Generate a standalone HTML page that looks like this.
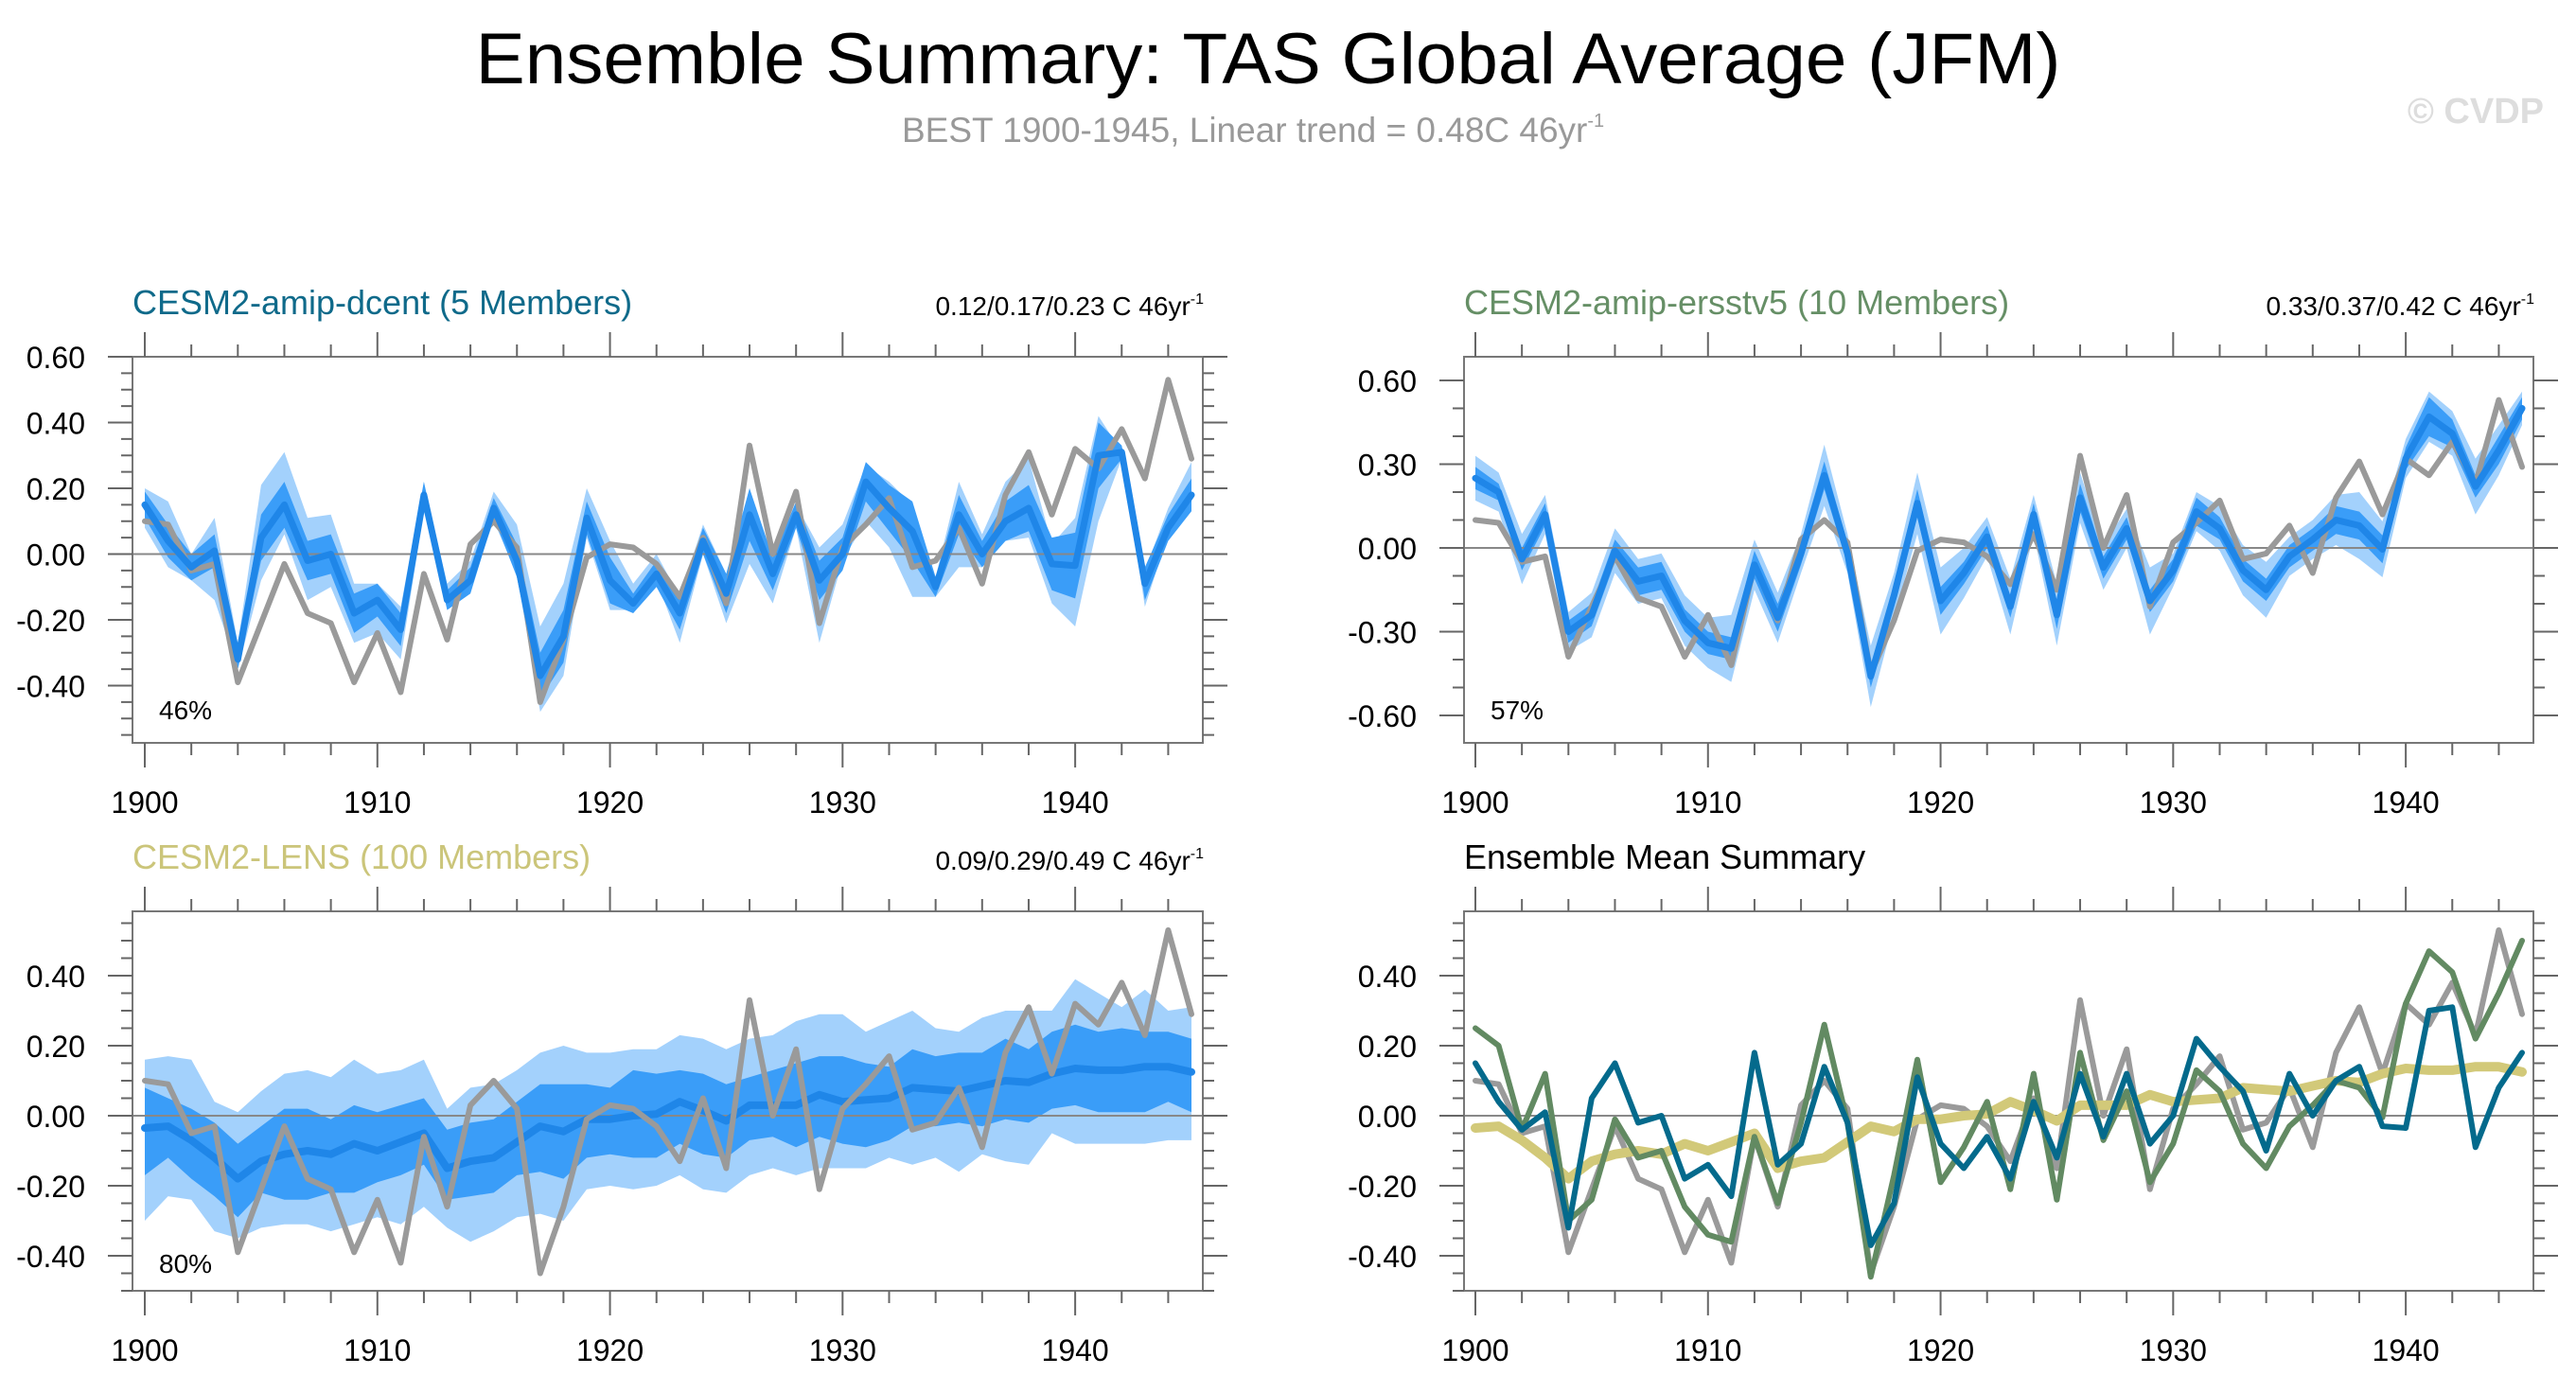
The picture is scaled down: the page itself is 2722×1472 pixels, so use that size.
<!DOCTYPE html>
<html><head><meta charset="utf-8"><style>
html,body{margin:0;padding:0;background:#fff}
svg{display:block;font-family:"Liberation Sans",Arial,sans-serif}
</style></head><body>
<svg id="chart" width="2722" height="1472" viewBox="0 0 2722 1472" xmlns="http://www.w3.org/2000/svg">
<text x="1340" y="88" font-size="76" text-anchor="middle" textLength="1675" lengthAdjust="spacingAndGlyphs" fill="#000">Ensemble Summary: TAS Global Average (JFM)</text>
<text x="953" y="150" font-size="37" fill="#999">BEST 1900-1945, Linear trend = 0.48C 46yr<tspan font-size="20" dy="-16">-1</tspan></text>
<text x="2688" y="130" font-size="38" font-weight="bold" text-anchor="end" fill="#ddd">© CVDP</text>
</svg>
<script>
const years = [];
for (let y = 1900; y <= 1945; y++) years.push(y);
const obs = [0.10,0.09,-0.05,-0.03,-0.39,-0.21,-0.03,-0.18,-0.21,-0.39,-0.24,-0.42,-0.06,-0.26,0.03,0.10,0.02,-0.45,-0.26,-0.01,0.03,0.02,-0.03,-0.13,0.05,-0.15,0.33,0.0,0.19,-0.21,0.02,0.09,0.17,-0.04,-0.02,0.08,-0.09,0.18,0.31,0.12,0.32,0.26,0.38,0.23,0.53,0.29];
const dcentMean = [0.15,0.04,-0.04,0.01,-0.32,0.05,0.15,-0.02,0.0,-0.18,-0.14,-0.23,0.18,-0.14,-0.08,0.14,-0.02,-0.37,-0.25,0.11,-0.08,-0.15,-0.06,-0.18,0.04,-0.12,0.12,-0.06,0.12,-0.08,0.0,0.22,0.14,0.07,-0.10,0.12,0.0,0.10,0.14,-0.03,-0.035,0.30,0.31,-0.09,0.08,0.18];
const dcentLightHi = [0.20,0.16,0.0,0.11,-0.27,0.21,0.31,0.11,0.12,-0.09,-0.09,-0.16,0.22,-0.09,-0.02,0.19,0.09,-0.22,-0.09,0.20,0.04,-0.09,0.0,-0.13,0.09,-0.06,0.20,-0.03,0.15,0.02,0.09,0.27,0.22,0.15,-0.07,0.22,0.06,0.22,0.29,0.03,0.11,0.42,0.31,-0.05,0.14,0.28];
const dcentLightLo = [0.08,-0.04,-0.08,-0.14,-0.35,-0.08,0.06,-0.14,-0.10,-0.27,-0.24,-0.32,0.13,-0.16,-0.10,0.10,-0.06,-0.48,-0.37,0.05,-0.17,-0.17,-0.08,-0.27,0.0,-0.21,-0.03,-0.15,0.08,-0.27,-0.02,0.10,0.02,-0.13,-0.13,-0.04,-0.04,0.04,0.05,-0.15,-0.22,0.10,0.29,-0.16,0.06,0.14];
const dcentDarkSpread = [0.04,0.05,0.04,0.05,0.03,0.07,0.07,0.06,0.06,0.06,0.05,0.05,0.04,0.03,0.04,0.03,0.05,0.07,0.08,0.05,0.07,0.03,0.04,0.05,0.04,0.06,0.08,0.05,0.04,0.06,0.05,0.06,0.07,0.09,0.03,0.06,0.04,0.06,0.07,0.08,0.10,0.10,0.02,0.05,0.04,0.05];
const erssMean = [0.25,0.20,-0.04,0.12,-0.30,-0.24,-0.01,-0.12,-0.10,-0.26,-0.34,-0.36,-0.06,-0.25,-0.02,0.26,-0.02,-0.46,-0.17,0.16,-0.19,-0.09,0.04,-0.21,0.12,-0.24,0.18,-0.07,0.07,-0.19,-0.08,0.13,0.07,-0.08,-0.15,-0.03,0.03,0.10,0.08,-0.005,0.32,0.47,0.41,0.22,0.35,0.50];
const erssLightSpread = [0.08,0.07,0.09,0.07,0.07,0.08,0.08,0.08,0.08,0.09,0.09,0.12,0.09,0.09,0.07,0.11,0.07,0.11,0.08,0.11,0.12,0.09,0.07,0.10,0.07,0.11,0.09,0.08,0.07,0.12,0.06,0.07,0.08,0.09,0.10,0.07,0.07,0.09,0.12,0.10,0.07,0.09,0.08,0.10,0.09,0.06];
const erssDarkSpread = [0.04,0.03,0.04,0.04,0.04,0.04,0.04,0.05,0.05,0.04,0.04,0.04,0.05,0.05,0.04,0.05,0.04,0.04,0.04,0.05,0.05,0.04,0.04,0.04,0.04,0.05,0.05,0.04,0.04,0.04,0.04,0.05,0.04,0.04,0.04,0.04,0.04,0.05,0.05,0.05,0.04,0.07,0.05,0.04,0.05,0.04];
const lensMean = [-0.035,-0.03,-0.07,-0.12,-0.18,-0.13,-0.11,-0.10,-0.11,-0.08,-0.10,-0.075,-0.05,-0.15,-0.13,-0.12,-0.075,-0.03,-0.045,-0.01,-0.01,0.0,0.005,0.04,0.015,-0.015,0.03,0.03,0.03,0.06,0.04,0.045,0.05,0.08,0.075,0.07,0.085,0.10,0.095,0.12,0.135,0.13,0.13,0.14,0.14,0.125];
const lensLightHi = [0.16,0.17,0.16,0.04,0.01,0.07,0.12,0.13,0.11,0.16,0.12,0.13,0.16,0.02,0.08,0.09,0.13,0.18,0.20,0.18,0.18,0.19,0.19,0.23,0.22,0.19,0.22,0.23,0.27,0.29,0.29,0.24,0.27,0.30,0.25,0.24,0.28,0.30,0.30,0.30,0.39,0.35,0.31,0.36,0.30,0.31];
const lensLightLo = [-0.30,-0.23,-0.24,-0.33,-0.35,-0.32,-0.31,-0.31,-0.33,-0.31,-0.29,-0.31,-0.26,-0.32,-0.36,-0.33,-0.29,-0.28,-0.30,-0.21,-0.20,-0.21,-0.20,-0.17,-0.21,-0.22,-0.17,-0.15,-0.17,-0.15,-0.15,-0.15,-0.12,-0.14,-0.12,-0.16,-0.11,-0.13,-0.14,-0.05,-0.08,-0.08,-0.08,-0.08,-0.07,-0.07];
const lensDarkHi = [0.08,0.05,0.02,-0.02,-0.08,-0.03,0.02,0.02,-0.01,0.03,0.01,0.03,0.05,-0.04,-0.02,-0.01,0.04,0.09,0.09,0.09,0.08,0.13,0.12,0.13,0.12,0.09,0.11,0.13,0.15,0.17,0.17,0.15,0.14,0.19,0.17,0.18,0.18,0.22,0.19,0.24,0.26,0.24,0.25,0.24,0.24,0.22];
const lensDarkLo = [-0.17,-0.12,-0.18,-0.23,-0.29,-0.22,-0.24,-0.24,-0.22,-0.22,-0.19,-0.17,-0.14,-0.24,-0.23,-0.22,-0.17,-0.16,-0.18,-0.12,-0.11,-0.12,-0.12,-0.08,-0.11,-0.12,-0.07,-0.06,-0.09,-0.06,-0.08,-0.09,-0.07,-0.03,-0.03,-0.02,-0.03,-0.01,-0.02,0.02,0.03,0.01,0.01,0.01,0.04,0.01];
const yTicks1 = ["0.60","0.40","0.20","0.00","-0.20","-0.40"];
const yTicks2 = ["0.60","0.30","0.00","-0.30","-0.60"];
const yTicks3 = ["0.40","0.20","0.00","-0.20","-0.40"];
const xTickLabels = ["1900","1910","1920","1930","1940"];

const NS = "http://www.w3.org/2000/svg";
const svg = document.getElementById("chart");
function mk(tag, attrs, parent) {
  const e = document.createElementNS(NS, tag);
  for (const k in attrs) e.setAttribute(k, attrs[k]);
  (parent || svg).appendChild(e);
  return e;
}
const LIGHT = "#a3d1fc", DARK = "#3a9df8", MEANBLUE = "#1f86e8", GRAY = "#9a9a9a";

function makePanel(cfg) {
  const g = mk("g", {});
  
  
  const x = yr => cfg.x0 + (yr - 1900) * (cfg.x1 - cfg.x0) / 45;
  const y = v => cfg.yZero - v * cfg.yScale;
  const L = cfg.boxL, R = cfg.boxR, T = cfg.boxT, B = cfg.boxB;
  const t = mk("text", {x: L, y: T - 45, "font-size": 36, fill: cfg.titleColor}, g);
  t.textContent = cfg.title;
  
  
  if (cfg.trend) {
    const tr = mk("text", {x: R + 1, y: T - 44, "font-size": 28, "text-anchor": "end", fill: "#000"}, g);
    tr.textContent = cfg.trend;
    const sup = mk("tspan", {"font-size": 16, dy: -12}, tr);
    sup.textContent = "-1";
    
    
  }
  const clipId = "clip-" + cfg.name;
  const cp = mk("clipPath", {id: clipId}, g);
  mk("rect", {x: L, y: T, width: R - L, height: B - T}, cp);
  const plot = mk("g", {"clip-path": "url(#" + clipId + ")"}, g);
  function band(lo, hi, color, nm) {
    let d = "";
    years.forEach((yr, i) => { d += (i ? "L" : "M") + x(yr).toFixed(1) + "," + y(hi[i]).toFixed(1); });
    for (let i = years.length - 1; i >= 0; i--) d += "L" + x(years[i]).toFixed(1) + "," + y(lo[i]).toFixed(1);
    const p = mk("path", {d: d + "Z", fill: color, stroke: "none"}, plot);
    
    
  }
  function line(vals, color, w, nm) {
    const pts = years.map((yr, i) => x(yr).toFixed(1) + "," + y(vals[i]).toFixed(1)).join(" ");
    const p = mk("polyline", {points: pts, fill: "none", stroke: color, "stroke-width": w, "stroke-linejoin": "round", "stroke-linecap": "round"}, plot);
    
    
  }
  if (cfg.bands) cfg.bands.forEach(b => band(b[0], b[1], b[2], b[3]));
  const zl = mk("line", {x1: L, x2: R, y1: y(0), y2: y(0), stroke: "#888", "stroke-width": 2}, plot);
  
  
  cfg.lines.forEach(l => line(l[0], l[1], l[2], l[3]));
  const bx = mk("rect", {x: L, y: T, width: R - L, height: B - T, fill: "none", stroke: "#777", "stroke-width": 2}, g);
  
  
  for (let yr = 1900; yr <= 1945; yr += 2) {
    const major = yr % 10 === 0;
    const len = major ? 26 : 13;
    mk("line", {x1: x(yr), x2: x(yr), y1: T, y2: T - len, stroke: "#666", "stroke-width": 2}, g);
    mk("line", {x1: x(yr), x2: x(yr), y1: B, y2: B + len, stroke: "#666", "stroke-width": 2}, g);
  }
  xTickLabels.forEach(lab => {
    const tx = mk("text", {x: x(+lab), y: B + 74, "font-size": 32, "text-anchor": "middle", fill: "#000"}, g);
    tx.textContent = lab;
    
    
  });
  const vmax = (cfg.yZero - T) / cfg.yScale, vmin = (cfg.yZero - B) / cfg.yScale;
  const nMin = Math.ceil(vmin / cfg.minor - 1e-6), nMax = Math.floor(vmax / cfg.minor + 1e-6);
  for (let n = nMin; n <= nMax; n++) {
    const v = n * cfg.minor;
    const major = Math.abs(v / cfg.major - Math.round(v / cfg.major)) < 1e-6;
    const len = major ? 26 : 12;
    mk("line", {x1: L, x2: L - len, y1: y(v), y2: y(v), stroke: "#666", "stroke-width": 2}, g);
    mk("line", {x1: R, x2: R + len, y1: y(v), y2: y(v), stroke: "#666", "stroke-width": 2}, g);
  }
  cfg.yLabels.forEach(lab => {
    const ty = mk("text", {x: L - 50, y: y(+lab) + 12, "font-size": 32, "text-anchor": "end", fill: "#000"}, g);
    ty.textContent = lab;
    
    
  });
  if (cfg.pct) {
    const pc = mk("text", {x: L + 28, y: cfg.pctY, "font-size": 28, fill: "#000"}, g);
    pc.textContent = cfg.pct;
    
    
  }
}
function addSpread(m, s, sign) { return m.map((v, i) => v + sign * s[i]); }

makePanel({name: "panel-dcent", title: "CESM2-amip-dcent (5 Members)", titleColor: "#0f6a8a", trend: "0.12/0.17/0.23 C 46yr",
  x0: 153, x1: 1259, boxL: 140, boxR: 1271, boxT: 377, boxB: 785, yZero: 585.5, yScale: 347.5, major: 0.2, minor: 0.05,
  yLabels: yTicks1, pct: "46%", pctY: 760,
  bands: [[dcentLightLo, dcentLightHi, LIGHT, "outer-band"], [addSpread(dcentMean, dcentDarkSpread, -1), addSpread(dcentMean, dcentDarkSpread, 1), DARK, "inner-band"]],
  lines: [[obs, GRAY, 6, "obs-line"], [dcentMean, MEANBLUE, 7, "ensemble-mean-line"]]});
makePanel({name: "panel-ersstv5", title: "CESM2-amip-ersstv5 (10 Members)", titleColor: "#668f66", trend: "0.33/0.37/0.42 C 46yr",
  x0: 1559, x1: 2665, boxL: 1547, boxR: 2677, boxT: 377, boxB: 785, yZero: 579, yScale: 295, major: 0.3, minor: 0.1,
  yLabels: yTicks2, pct: "57%", pctY: 760,
  bands: [[addSpread(erssMean, erssLightSpread, -1), addSpread(erssMean, erssLightSpread, 1), LIGHT, "outer-band"], [addSpread(erssMean, erssDarkSpread, -1), addSpread(erssMean, erssDarkSpread, 1), DARK, "inner-band"]],
  lines: [[obs, GRAY, 6, "obs-line"], [erssMean, MEANBLUE, 7, "ensemble-mean-line"]]});
makePanel({name: "panel-lens", title: "CESM2-LENS (100 Members)", titleColor: "#cbc57a", trend: "0.09/0.29/0.49 C 46yr",
  x0: 153, x1: 1259, boxL: 140, boxR: 1271, boxT: 963, boxB: 1364, yZero: 1179, yScale: 370, major: 0.2, minor: 0.05,
  yLabels: yTicks3, pct: "80%", pctY: 1345,
  bands: [[lensLightLo, lensLightHi, LIGHT, "outer-band"], [lensDarkLo, lensDarkHi, DARK, "inner-band"]],
  lines: [[lensMean, MEANBLUE, 8, "ensemble-mean-line"], [obs, GRAY, 6, "obs-line"]]});
makePanel({name: "panel-mean-summary", title: "Ensemble Mean Summary", titleColor: "#000", trend: null,
  x0: 1559, x1: 2665, boxL: 1547, boxR: 2677, boxT: 963, boxB: 1364, yZero: 1179, yScale: 370, major: 0.2, minor: 0.05,
  yLabels: yTicks3, pct: null,
  lines: [[obs, GRAY, 6, "obs-line"], [lensMean, "#d2c979", 10, "lens-mean-line"], [erssMean, "#628a62", 6, "ersstv5-mean-line"], [dcentMean, "#046a8c", 6, "dcent-mean-line"]]});
</script>
</body></html>
